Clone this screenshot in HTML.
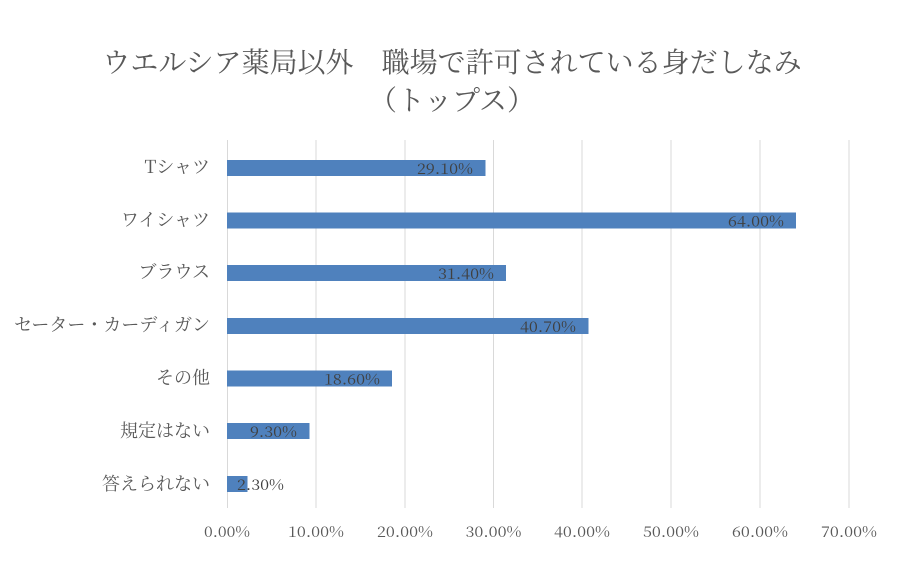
<!DOCTYPE html>
<html><head><meta charset="utf-8"><style>
body{margin:0;background:#fff;}
svg text{font-family:"Noto Serif CJK JP","Liberation Serif",serif;fill:#595959;}
</style></head><body>
<svg width="900" height="580" xmlns="http://www.w3.org/2000/svg">
<text x="452" y="72" font-size="28" text-anchor="middle">ウエルシア薬局以外　職場で許可されている身だしなみ</text>
<text x="452" y="110" font-size="28" text-anchor="middle">（トップス）</text>
<g stroke="#d9d9d9" stroke-width="1">
<line x1="227.5" y1="140" x2="227.5" y2="508"/>
<line x1="316" y1="140" x2="316" y2="508"/>
<line x1="405" y1="140" x2="405" y2="508"/>
<line x1="493.5" y1="140" x2="493.5" y2="508"/>
<line x1="582" y1="140" x2="582" y2="508"/>
<line x1="671" y1="140" x2="671" y2="508"/>
<line x1="760" y1="140" x2="760" y2="508"/>
<line x1="849" y1="140" x2="849" y2="508"/>
</g>
<g fill="#4f81bd">
<rect x="227" y="160" width="258.5" height="16"/>
<rect x="227" y="212.5" width="569" height="16"/>
<rect x="227" y="265" width="279" height="16"/>
<rect x="227" y="318" width="361.5" height="16"/>
<rect x="227" y="370.5" width="165" height="16"/>
<rect x="227" y="423" width="82.5" height="16"/>
<rect x="227" y="476" width="20.5" height="16"/>
</g>
<g font-size="15">
<text x="417" y="174" textLength="56" lengthAdjust="spacingAndGlyphs" style="fill:#404040">29.10%</text>
<text x="728" y="226.5" textLength="56" lengthAdjust="spacingAndGlyphs" style="fill:#404040">64.00%</text>
<text x="438" y="279" textLength="56" lengthAdjust="spacingAndGlyphs" style="fill:#404040">31.40%</text>
<text x="520" y="332" textLength="56" lengthAdjust="spacingAndGlyphs" style="fill:#404040">40.70%</text>
<text x="324" y="384.5" textLength="56" lengthAdjust="spacingAndGlyphs" style="fill:#404040">18.60%</text>
<text x="250" y="437" textLength="47" lengthAdjust="spacingAndGlyphs" style="fill:#404040">9.30%</text>
<text x="237" y="490" textLength="47" lengthAdjust="spacingAndGlyphs" style="fill:#404040">2.30%</text>
</g>
<g font-size="18" text-anchor="end">
<text x="210" y="173">Tシャツ</text>
<text x="210" y="226">ワイシャツ</text>
<text x="210" y="278">ブラウス</text>
<text x="210" y="331">セーター・カーディガン</text>
<text x="210" y="384">その他</text>
<text x="210" y="437">規定はない</text>
<text x="210" y="490">答えられない</text>
</g>
<g font-size="15">
<text x="204" y="537" textLength="46" lengthAdjust="spacingAndGlyphs">0.00%</text>
<text x="288" y="537" textLength="56" lengthAdjust="spacingAndGlyphs">10.00%</text>
<text x="377" y="537" textLength="56" lengthAdjust="spacingAndGlyphs">20.00%</text>
<text x="465.5" y="537" textLength="56" lengthAdjust="spacingAndGlyphs">30.00%</text>
<text x="554" y="537" textLength="56" lengthAdjust="spacingAndGlyphs">40.00%</text>
<text x="643" y="537" textLength="56" lengthAdjust="spacingAndGlyphs">50.00%</text>
<text x="732" y="537" textLength="56" lengthAdjust="spacingAndGlyphs">60.00%</text>
<text x="821" y="537" textLength="56" lengthAdjust="spacingAndGlyphs">70.00%</text>
</g>
</svg>
</body></html>
